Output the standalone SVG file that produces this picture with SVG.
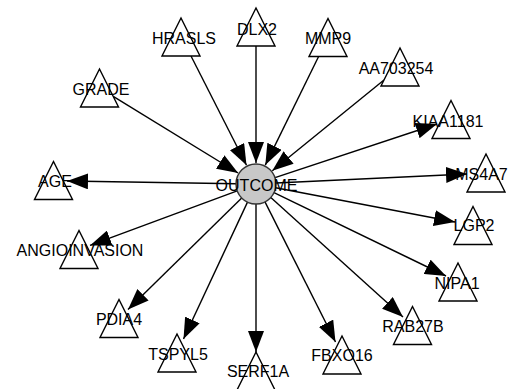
<svg xmlns="http://www.w3.org/2000/svg" width="509" height="389" viewBox="0 0 509 389">
<style>
.e{stroke:#000;stroke-width:1.4;fill:none;marker-end:url(#arr)}
.t{fill:#fff;stroke:#000;stroke-width:1.4}
.c{fill:#c8c8c8;stroke:#333;stroke-width:1.4}
text{font-family:"Liberation Sans",Arial,sans-serif;font-size:16px;fill:#000;text-anchor:middle}
</style>
<defs>
<marker id="arr" markerUnits="userSpaceOnUse" markerWidth="21" markerHeight="16" refX="21" refY="8" orient="auto" viewBox="0 0 21 16"><path d="M0,0 L21,8 L0,16 z" fill="#000"/></marker>
</defs>
<rect width="509" height="389" fill="#fff"/>
<g id="edges">
<line class="e" x1="191" y1="56" x2="246.5" y2="165.3"/>
<line class="e" x1="256" y1="46" x2="256" y2="163"/>
<line class="e" x1="318.6" y1="56.5" x2="265.3" y2="165.1"/>
<line class="e" x1="384" y1="80" x2="272.3" y2="170.7"/>
<line class="e" x1="113.2" y1="96.4" x2="238.1" y2="173"/>
<line class="e" x1="236" y1="183.7" x2="67" y2="181"/>
<line class="e" x1="275" y1="177.7" x2="437" y2="124"/>
<line class="e" x1="276" y1="183" x2="467" y2="174"/>
<line class="e" x1="275.6" y1="187.8" x2="455" y2="222"/>
<line class="e" x1="274" y1="192.7" x2="446" y2="276"/>
<line class="e" x1="270.8" y1="197.4" x2="403" y2="317"/>
<line class="e" x1="265" y1="201.9" x2="335.5" y2="342"/>
<line class="e" x1="256" y1="204" x2="256" y2="352"/>
<line class="e" x1="247.5" y1="202.1" x2="183.5" y2="339"/>
<line class="e" x1="241.7" y1="198" x2="128" y2="309.5"/>
<line class="e" x1="237.2" y1="190.9" x2="90" y2="245.4"/>
</g>
<g id="HRASLS"><polygon class="t" points="181,18 162,56 200,56"/><text x="184" y="44">HRASLS</text></g>
<g id="DLX2"><polygon class="t" points="256,8 237,46 275,46"/><text x="257" y="35">DLX2</text></g>
<g id="MMP9"><polygon class="t" points="328,18.5 309,56.5 347,56.5"/><text x="328" y="44">MMP9</text></g>
<g id="AA703254"><polygon class="t" points="400,48 381,86 419,86"/><text x="396" y="74">AA703254</text></g>
<g id="KIAA1181"><polygon class="t" points="451,100.5 432,138.5 470,138.5"/><text x="448" y="127">KIAA1181</text></g>
<g id="MS4A7"><polygon class="t" points="486,154 467,192 505,192"/><text x="481.5" y="180">MS4A7</text></g>
<g id="GRADE"><polygon class="t" points="99.5,69 80.5,107 118.5,107"/><text x="101" y="95">GRADE</text></g>
<g id="AGE"><polygon class="t" points="53.5,161.5 34.5,199.5 72.5,199.5"/><text x="55" y="187">AGE</text></g>
<g id="ANGIOINVASION"><polygon class="t" points="79,230.5 60,268.5 98,268.5"/><text x="80" y="256">ANGIOINVASION</text></g>
<g id="PDIA4"><polygon class="t" points="119,299.5 100,337.5 138,337.5"/><text x="119" y="325">PDIA4</text></g>
<g id="TSPYL5"><polygon class="t" points="177,334 158,372 196,372"/><text x="178" y="360">TSPYL5</text></g>
<g id="SERF1A"><polygon class="t" points="256,352 237,390 275,390"/><text x="258" y="377">SERF1A</text></g>
<g id="FBXO16"><polygon class="t" points="342,336 323,374 361,374"/><text x="342" y="361">FBXO16</text></g>
<g id="RAB27B"><polygon class="t" points="412.5,306.5 393.5,344.5 431.5,344.5"/><text x="413" y="332">RAB27B</text></g>
<g id="NIPA1"><polygon class="t" points="458,263 439,301 477,301"/><text x="457" y="289">NIPA1</text></g>
<g id="LGP2"><polygon class="t" points="473,206.5 454,244.5 492,244.5"/><text x="474" y="231">LGP2</text></g>
<g id="OUTCOME"><circle class="c" cx="256" cy="184" r="20"/><text x="256.5" y="191">OUTCOME</text></g>
</svg>
